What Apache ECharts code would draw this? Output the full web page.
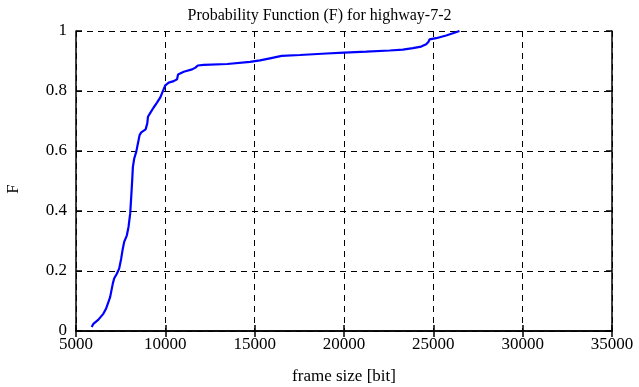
<!DOCTYPE html>
<html>
<head>
<meta charset="utf-8">
<script src="https://cdn.jsdelivr.net/npm/echarts@6/dist/echarts.min.js"></script>
<style>html,body{margin:0;padding:0;background:#fff;}#c{width:639px;height:387px;}</style>
</head>
<body>
<div id="c"></div>
<script>
var titleText = 'Probability Function (F) for highway-7-2';
var xName = 'frame size [bit]';
var yName = 'F';
var xTicks = [5000, 10000, 15000, 20000, 25000, 30000, 35000];
var yTicks = [0, 0.2, 0.4, 0.6, 0.8, 1];
var frameSize = [5880, 5974, 6255, 6536, 6686, 6817, 6910, 7004, 7060, 7135, 7285, 7416, 7528, 7603, 7697, 7847, 7940, 8034, 8090, 8146, 8184, 8259, 8371, 8465, 8559, 8652, 8896, 8990, 9027, 9158, 9345, 9533, 9720, 9851, 10000, 10188, 10469, 10656, 10712, 11031, 11499, 11686, 11817, 12154, 13466, 14739, 15298, 15857, 16508, 17532, 19022, 20000, 21248, 22551, 23296, 23855, 24320, 24600, 24730, 24786, 25158, 25717, 26182, 26461];
var probF = [0.013, 0.024, 0.038, 0.058, 0.075, 0.097, 0.113, 0.119, 0.158, 0.175, 0.191, 0.208, 0.241, 0.269, 0.297, 0.319, 0.347, 0.392, 0.447, 0.503, 0.547, 0.575, 0.597, 0.625, 0.653, 0.662, 0.672, 0.692, 0.714, 0.727, 0.745, 0.761, 0.779, 0.798, 0.819, 0.828, 0.833, 0.839, 0.855, 0.864, 0.872, 0.878, 0.885, 0.887, 0.890, 0.897, 0.902, 0.909, 0.917, 0.920, 0.925, 0.928, 0.931, 0.935, 0.938, 0.943, 0.948, 0.956, 0.964, 0.972, 0.976, 0.985, 0.994, 1.0];

var font = '"Liberation Serif", "DejaVu Serif", serif';
var data = frameSize.map(function (x, i) { return [x, probF[i]]; });
var chart = echarts.init(document.getElementById('c'), null, {renderer: 'canvas'});
var axisLineStyle = {show: true, lineStyle: {color: '#000', width: 1.5}};
var gridLine = {show: true, lineStyle: {color: '#000', type: [6, 5], width: 1}};
var tick = {show: true, inside: true, length: 6, lineStyle: {color: '#000', width: 1.5}};
chart.setOption({
  animation: false,
  backgroundColor: '#fff',
  title: {
    text: titleText, left: 'center', top: 3,
    textStyle: {fontFamily: font, fontWeight: 'normal', fontSize: 16, color: '#000'}
  },
  grid: {left: 76, right: 27, top: 31, bottom: 56, containLabel: false, outerBoundsMode: 'none'},
  xAxis: [{
    type: 'value', min: xTicks[0], max: xTicks[xTicks.length - 1], interval: 5000,
    position: 'bottom',
    name: xName, nameLocation: 'middle', nameGap: 37,
    nameTextStyle: {fontFamily: font, fontSize: 17, color: '#000'},
    axisLine: axisLineStyle,
    axisTick: tick,
    axisLabel: {fontFamily: font, fontSize: 17, color: '#000', margin: 5,
      formatter: function (v) { return String(v); }},
    splitLine: gridLine
  }, {
    type: 'value', min: xTicks[0], max: xTicks[xTicks.length - 1], interval: 5000,
    position: 'top',
    axisLine: axisLineStyle,
    axisTick: tick,
    axisLabel: {show: false},
    splitLine: {show: false}
  }],
  yAxis: [{
    type: 'value', min: 0, max: 1, interval: 0.2,
    position: 'left',
    name: yName, nameLocation: 'middle', nameGap: 54, nameRotate: 90,
    nameTextStyle: {fontFamily: font, fontSize: 17, color: '#000', padding: [0, 0, 0, -16]},
    axisLine: axisLineStyle,
    axisTick: tick,
    axisLabel: {fontFamily: font, fontSize: 17, color: '#000', margin: 9,
      formatter: function (v) { return String(Math.round(v * 10) / 10); }},
    splitLine: gridLine
  }, {
    type: 'value', min: 0, max: 1, interval: 0.2,
    position: 'right',
    axisLine: axisLineStyle,
    axisTick: tick,
    axisLabel: {show: false},
    splitLine: {show: false}
  }],
  series: [{
    type: 'line', data: data, xAxisIndex: 0, yAxisIndex: 0,
    showSymbol: false, symbol: 'none',
    lineStyle: {color: '#0000ff', width: 2.2}
  }]
});
</script>
</body>
</html>
